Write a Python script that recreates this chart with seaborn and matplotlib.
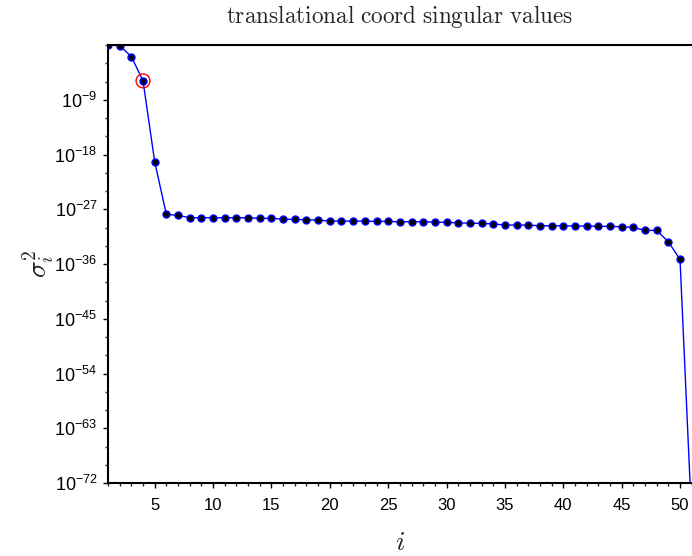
import numpy as np
import pandas as pd
import matplotlib
matplotlib.use("Agg")
import matplotlib.pyplot as plt
import matplotlib.ticker as mticker
import seaborn as sns

# index i and log10 of sigma_i^2
idx = list(range(1, 52))
log10_sigma2 = [
    0.0, -0.1, -1.9, -5.9, -19.2,
    -27.85, -28.0, -28.4, -28.4, -28.4, -28.4, -28.4, -28.4, -28.5, -28.5,
    -28.62, -28.67, -28.73, -28.78, -28.95, -28.95, -28.95, -28.95, -29.0, -29.0,
    -29.06, -29.06, -29.06, -29.11, -29.16, -29.23, -29.28, -29.33, -29.4, -29.6,
    -29.6, -29.62, -29.7, -29.72, -29.72, -29.75, -29.77, -29.8, -29.82, -29.88,
    -29.98, -30.48, -30.48, -32.35, -35.25, -78.0,
]
highlight_i = 4
title = "translational coord singular values"

df = pd.DataFrame({"i": idx, "s2": [10.0 ** e for e in log10_sigma2]})

sns.set_style("ticks")
plt.rcParams["font.family"] = ["Liberation Sans", "DejaVu Sans"]
plt.rcParams["mathtext.fontset"] = "custom"
plt.rcParams["mathtext.rm"] = "Liberation Sans"
plt.rcParams["mathtext.it"] = "Liberation Sans:italic"
plt.rcParams["mathtext.bf"] = "Liberation Sans:bold"

fig = plt.figure(figsize=(6.92, 5.56), dpi=100)
ax = fig.add_axes([108 / 692, 73 / 556, (691.7 - 108) / 692, (483 - 45) / 556])

sns.lineplot(data=df, x="i", y="s2", ax=ax, color="#0000ff", linewidth=1.0,
             marker="o", markersize=5, markerfacecolor="black",
             markeredgecolor="#0000ff", markeredgewidth=1.0)
hl = df[df["i"] == highlight_i]
sns.scatterplot(data=hl, x="i", y="s2", ax=ax, s=100, facecolor="none",
                edgecolor="red", linewidth=1.0, zorder=5)

ax.set_yscale("log")
ax.set_xlim(1, 51)
ax.set_ylim(1e-72, 1e0)

ax.yaxis.set_major_locator(mticker.FixedLocator([10.0 ** (-9 * k) for k in range(1, 9)]))
ax.yaxis.set_minor_locator(mticker.FixedLocator([10.0 ** (-3 * k) for k in range(0, 25)]))
ax.yaxis.set_major_formatter(mticker.FuncFormatter(
    lambda v, p: r"$\mathregular{10^{%d}}$" % int(round(np.log10(v)))))
ax.yaxis.set_minor_formatter(mticker.NullFormatter())
ax.xaxis.set_major_locator(mticker.MultipleLocator(5))
ax.xaxis.set_minor_locator(mticker.MultipleLocator(1))

ax.tick_params(axis="both", which="major", direction="out", length=3.6, width=1,
               colors="black")
ax.tick_params(axis="x", which="major", pad=7.5, labelsize=12)
ax.tick_params(axis="y", which="major", pad=4, labelsize=13)
ax.tick_params(axis="both", which="minor", direction="out", length=2.2, width=1)

for s in ["left", "top", "bottom"]:
    ax.spines[s].set_visible(True)
    ax.spines[s].set_color("black")
    ax.spines[s].set_linewidth(1.5)
ax.spines["right"].set_visible(False)

ax.set_title(r"$\mathrm{translational\ coord\ singular\ values}$",
             math_fontfamily="cm", fontsize=16.7, pad=16)
ax.set_xlabel(r"$i$", math_fontfamily="cm", fontsize=20, labelpad=12)
ax.set_ylabel(r"$\sigma_i^2$", math_fontfamily="cm", fontsize=20, labelpad=-1)

fig.savefig("out.png", dpi=100)
